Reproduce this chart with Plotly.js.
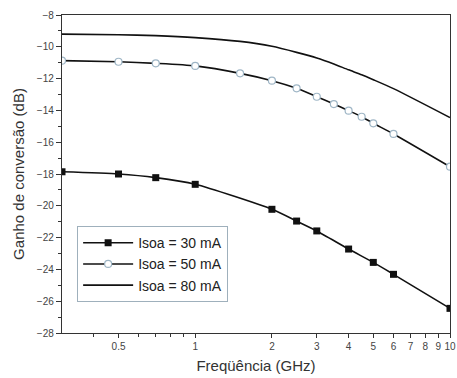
<!DOCTYPE html>
<html>
<head>
<meta charset="utf-8">
<script src="https://cdn.plot.ly/plotly-3.0.1.min.js"></script>
<style>html,body{margin:0;padding:0;background:#fff}#chart{width:457px;height:378px}</style>
</head>
<body>
<div id="chart"></div>
<script>
// Frequency (GHz)
const freq30 = [0.3, 0.5, 0.7, 1, 2, 2.5, 3, 4, 5, 6, 10];
const gain30 = [-17.86, -18.0, -18.23, -18.65, -20.22, -20.96, -21.58, -22.72, -23.56, -24.31, -26.45];

const freq50 = [0.3, 0.5, 0.7, 1, 1.5, 2, 2.5, 3, 3.5, 4, 4.5, 5, 6, 10];
const gain50 = [-10.87, -10.94, -11.04, -11.2, -11.67, -12.13, -12.61, -13.14, -13.6, -14.02, -14.4, -14.81, -15.48, -17.54];

const freq80 = [0.3, 0.5, 0.7, 1, 1.5, 2, 2.5, 3, 3.5, 4, 4.5, 5, 6, 10];
const gain80 = [-9.2, -9.24, -9.3, -9.42, -9.66, -9.97, -10.35, -10.7, -11.08, -11.45, -11.76, -12.07, -12.63, -14.45];

const seriesNames = ["Isoa = 30 mA", "Isoa = 50 mA", "Isoa = 80 mA"];

const xTickVals = [0.5, 1, 2, 3, 4, 5, 6, 7, 8, 9, 10];
const xTickText = ["0.5", "1", "2", "3", "4", "5", "6", "7", "8", "9", "10"];
const xMinorVals = [0.4, 0.6, 0.7, 0.8, 0.9];

const traces = [
  {x: freq30, y: gain30, name: seriesNames[0], mode: "lines+markers", type: "scatter",
   line: {color: "#111", width: 1.6, shape: "spline", smoothing: 0.6},
   marker: {symbol: "square", size: 7, color: "#111"}},
  {x: freq50, y: gain50, name: seriesNames[1], mode: "lines+markers", type: "scatter",
   line: {color: "#111", width: 1.6, shape: "spline", smoothing: 0.6},
   marker: {symbol: "circle", size: 7, color: "#fff", line: {color: "#9fb6c6", width: 1.2}}},
  {x: freq80, y: gain80, name: seriesNames[2], mode: "lines", type: "scatter",
   line: {color: "#111", width: 1.6, shape: "spline", smoothing: 0.6}}
];

const layout = {
  width: 457, height: 378,
  margin: {l: 62, r: 7, t: 15, b: 45},
  paper_bgcolor: "#fff", plot_bgcolor: "#fff",
  font: {family: "Liberation Sans, Arial, sans-serif", color: "#333"},
  showlegend: true,
  legend: {x: 0.039, y: 0.336, xanchor: "left", yanchor: "top",
           bordercolor: "#9fb0bc", borderwidth: 1, bgcolor: "#fff",
           itemwidth: 50,
           font: {size: 14, color: "#222"}, tracegroupgap: 0},
  xaxis: {
    type: "log", range: [Math.log10(0.3), 1],
    tickmode: "array", tickvals: xTickVals, ticktext: xTickText,
    ticks: "outside", ticklen: 4, tickwidth: 1, tickcolor: "#333",
    minor: {tickmode: "array", tickvals: xMinorVals, ticks: "outside", ticklen: 3, tickcolor: "#333", showgrid: false},
    showgrid: false, zeroline: false,
    showline: true, linecolor: "#333", linewidth: 1.2, mirror: true,
    tickfont: {size: 10, color: "#444"},
    title: {text: "Freqüência (GHz)", font: {size: 15, color: "#333"}, standoff: 9}
  },
  yaxis: {
    range: [-28, -8], dtick: 2, tick0: -28,
    ticks: "outside", ticklen: 5, tickwidth: 1, tickcolor: "#333",
    minor: {dtick: 1, ticks: "outside", ticklen: 3, tickcolor: "#333", showgrid: false},
    showgrid: false, zeroline: false,
    showline: true, linecolor: "#333", linewidth: 1.2, mirror: true,
    tickfont: {size: 10, color: "#444"},
    title: {text: "Ganho de conversão (dB)", font: {size: 15, color: "#333"}, standoff: 8}
  }
};

Plotly.newPlot("chart", traces, layout, {displayModeBar: false, staticPlot: true});
</script>
</body>
</html>
